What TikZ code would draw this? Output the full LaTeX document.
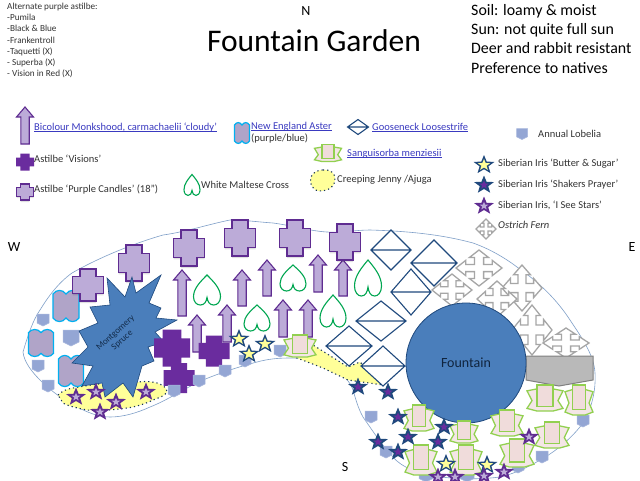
\documentclass[tikz,border=0pt]{standalone}
\usepackage{fontspec}
\setmainfont{Carlito}
\usepackage{tikz}
\usetikzlibrary{calc}
\definecolor{navyline}{HTML}{1F497D}
\definecolor{fountainblue}{HTML}{4A7EBB}
\definecolor{purpledark}{HTML}{6A2C9E}
\definecolor{purpleline}{HTML}{5F2C91}
\definecolor{purplelight}{HTML}{BCABD8}
\definecolor{asterfill}{HTML}{B0A4C8}
\definecolor{astercyan}{HTML}{00B0F0}
\definecolor{lobeliafill}{HTML}{94A6D4}
\definecolor{maltesegreen}{HTML}{00A651}
\definecolor{ribbongreen}{HTML}{92D050}
\definecolor{ribbonpink}{HTML}{F0DCDB}
\definecolor{jennyyellow}{HTML}{FFFF99}
\definecolor{linkblue}{HTML}{3A3AC0}
\definecolor{fernline}{HTML}{A6A6A6}
\definecolor{bedline}{HTML}{7F9FC8}
\definecolor{textgray}{HTML}{333333}
\tikzset{
  legendtext/.style={anchor=west,inner sep=0pt,text=textgray,font=\fontsize{10.5}{12}\selectfont},
  linktext/.style={legendtext,text=linkblue},
  compass/.style={inner sep=0pt,text=black,font=\fontsize{14}{16}\selectfont},
  lightcrossline/.style={draw=purpleline,fill=purplelight,line width=1.2pt},
  crossshadow/.style={fill=black,opacity=.12},
  darkcrossline/.style={fill=purpledark},
  asterline/.style={draw=astercyan,fill=asterfill,line width=1.2pt},
  lobelialine/.style={fill=lobeliafill,draw=lobeliafill!80!white,line width=.5pt},
  monkshoodline/.style={draw=purpleline,fill=purplelight,line width=1.1pt},
  malteseline/.style={draw=maltesegreen,fill=white,line width=1.1pt},
  looseline/.style={draw=navyline,fill=white,line width=1.1pt},
  fernoutline/.style={draw=fernline,fill=white,line width=1.3pt},
  ribbonline/.style={draw=ribbongreen,fill=ribbonpink!70!white,line width=1.3pt},
  ribboncore/.style={draw=ribbongreen,fill=ribbonpink,line width=1.3pt},
  jennyline/.style={fill=jennyyellow},
  jennydots/.style={draw=navyline!70!black,line width=1.1pt,dash pattern=on 1.2pt off 3pt}
}
\newcommand{\linklabel}[1]{\underline{\smash{#1}}}
\newcommand{\crosspath}{(-.52,-1)--(.52,-1)--(.52,-.52)--(1,-.52)--(1,.52)--(.52,.52)--(.52,1)--(-.52,1)--(-.52,.52)--(-1,.52)--(-1,-.52)--(-.52,-.52)--cycle}
\newcommand{\starpath}{(0,-1)--(.247,-.34)--(.951,-.309)--(.40,.13)--(.588,.809)--(0,.42)--(-.588,.809)--(-.40,.13)--(-.951,-.309)--(-.247,-.34)--cycle}
\newcommand{\lightcross}[4]{\fill[crossshadow,shift={(#1,#2+2)},xscale=#3,yscale=#4]\crosspath;
  \draw[lightcrossline,shift={(#1,#2)},xscale=#3,yscale=#4]\crosspath;}
\newcommand{\darkcross}[4]{\fill[darkcrossline,shift={(#1,#2)},xscale=#3,yscale=#4]\crosspath;}
\newcommand{\aster}[4]{\draw[asterline,shift={(#1,#2)},xscale=#3,yscale=#4](-1,-.8)..controls(-.75,-1.12)and(-.25,-1.12)..(0,-.8)..controls(.25,-1.12)and(.75,-1.12)..(1,-.8)--(1,.8)..controls(.75,1.12)and(.25,1.12)..(0,.8)..controls(-.25,1.12)and(-.75,1.12)..(-1,.8)--cycle;}
\newcommand{\lobelia}[3]{\draw[lobelialine,shift={(#1,#2)},scale=#3](-1,-1)--(1,-1)--(1,.5)--(0,1)--(-1,.5)--cycle;}
\newcommand{\monkshood}[3]{\draw[monkshoodline,shift={(#1,#2)}](-4.2,#3)--(-4.2,10)--(-8.5,10)--(0,0)--(8.5,10)--(4.2,10)--(4.2,#3)--cycle;}
\newcommand{\maltese}[4]{\draw[malteseline,shift={(#1,#2)},xscale=#3,yscale=#4](0,-1)..controls(.5,-.55)and(1,-.1)..(1,.45)..controls(1,.8)and(.75,1)..(.5,1)..controls(.2,1)and(.05,.8)..(0,.5)..controls(-.05,.8)and(-.2,1)..(-.5,1)..controls(-.75,1)and(-1,.8)..(-1,.45)..controls(-1,-.1)and(-.5,-.55)..(0,-1)--cycle;}
\newcommand{\loosestrife}[4]{\draw[looseline,shift={(#1,#2)},xscale=#3,yscale=#4](-1,0)--(0,-1)--(1,0)--(0,1)--cycle(-1,0)--(1,0);}
\newcommand{\fern}[4]{\draw[fernoutline,shift={(#1,#2)},xscale=#3,yscale=#4](0,-1)--(.42,-.58)--(.2,-.58)--(.2,-.2)--(.58,-.2)--(.58,-.42)--(1,0)--(.58,.42)--(.58,.2)--(.2,.2)--(.2,.58)--(.42,.58)--(0,1)--(-.42,.58)--(-.2,.58)--(-.2,.2)--(-.58,.2)--(-.58,.42)--(-1,0)--(-.58,-.42)--(-.58,-.2)--(-.2,-.2)--(-.2,-.58)--(-.42,-.58)--cycle;}
\newcommand{\ribbon}[4]{\draw[ribbonline,shift={(#1,#2)},xscale=#3,yscale=#4](-.45,-.7)--(-1,-.55)--(-.72,.2)--(-1,.8)--(-.45,1)--(.45,1)--(1,.8)--(.72,.2)--(1,-.55)--(.45,-.7)--cycle;
  \draw[ribboncore,shift={(#1,#2)},xscale=#3,yscale=#4](-.45,-1)rectangle(.45,.65);}
\newcommand{\butteriris}[2]{\fill[fill=navyline,shift={(#1,#2)},xscale=11,yscale=10]\starpath;
  \fill[fill=jennyyellow,shift={(#1,#2)},xscale=6.5,yscale=6]\starpath;}
\newcommand{\shakersiris}[2]{\fill[fill=navyline,shift={(#1,#2)},xscale=10.5,yscale=9.5]\starpath;
  \fill[fill=purpledark,shift={(#1,#2)},xscale=4.8,yscale=4.5]\starpath;}
\newcommand{\seestars}[2]{\fill[fill=purpleline,shift={(#1,#2)},xscale=10.5,yscale=9.5]\starpath;
  \fill[fill=purplelight,shift={(#1,#2)},xscale=4.5,yscale=4.2]\starpath;}
\begin{document}
\begin{tikzpicture}[x=1pt,y=-1pt]
    \useasboundingbox[fill=white](0,0)rectangle(640,480);
    \node[anchor=north west,inner sep=0pt,align=left,text=textgray,font=\fontsize{9.2}{11.2}\selectfont](alts)at(7,3){Alternate purple astilbe:\\-Pumila\\-Black \& Blue\\-Frankentroll\\-Taquetti (X)\\- Superba (X)\\- Vision in Red (X)};
    \node[compass](north)at(306,11){N};
    \node[inner sep=0pt,font=\fontsize{31.5}{36}\selectfont](title)at(314,41){Fountain Garden};
    \node[anchor=north west,inner sep=0pt,align=left,font=\fontsize{15.9}{19.3}\selectfont](notes)at(471,4){Soil: loamy \& moist\\Sun: not quite full sun\\Deer and rabbit resistant\\Preference to natives};
    \node[compass](west)at(14,247){W};
    \node[compass](east)at(632,247){E};
    \node[compass](south)at(345,467){S};

    \monkshood{25}{107}{37}
    \node[linktext](monklabel)at(34,131){\linklabel{Bicolour Monkshood, carmachaelii ‘cloudy’}};
    \darkcross{25}{162}{9}{8.5}
    \node[legendtext](visionlabel)at(34,159){Astilbe ‘Visions’};
    \lightcross{25}{192}{8.5}{8}
    \node[legendtext](candlelabel)at(34,190){Astilbe ‘Purple Candles’ (18”)};
    \maltese{192}{185}{8}{10.5}
    \node[legendtext](malteselabel)at(201,185){White Maltese Cross};
    \aster{242}{133}{7.5}{10}
    \node[linktext](asterlabel)at(251,130){\linklabel{New England Aster}};
    \node[legendtext](asterhue)at(251,139){(purple/blue)};
    \loosestrife{358}{127}{10.5}{7.5}
    \node[linktext](looselabel)at(372,131){\linklabel{Gooseneck Loosestrife}};
    \ribbon{328}{153}{13.5}{8.5}
    \node[linktext](sanglabel)at(347,157){\linklabel{Sanguisorba menziesii}};
    \fill[jennyyellow](323,170)..controls(331,169)and(336,174)..(335,180)..controls(335,187)and(328,191)..(319,191)..controls(312,190)and(309,183)..(311,177)..controls(313,172)and(318,170)..(323,170)--cycle;
    \draw[jennydots](323,170)..controls(331,169)and(336,174)..(335,180)..controls(335,187)and(328,191)..(319,191)..controls(312,190)and(309,183)..(311,177)..controls(313,172)and(318,170)..(323,170)--cycle;
    \node[legendtext](jennylabel)at(337,180){Creeping Jenny /Ajuga};
    \lobelia{522}{134}{5.5}
    \node[legendtext](lobelialabel)at(538,134){Annual Lobelia};
    \butteriris{484}{165}
    \node[legendtext](butterlabel)at(498,164){Siberian Iris ‘Butter \& Sugar’};
    \shakersiris{484}{185}
    \node[legendtext](shakerlabel)at(498,185){Siberian Iris ‘Shakers Prayer’};
    \seestars{484}{206}
    \node[legendtext](starslabel)at(498,205){Siberian Iris, ‘I See Stars’};
    \fern{486}{229}{10}{10}
    \node[legendtext,font=\fontsize{10.5}{12}\itshape](fernlabel)at(498,225){Ostrich Fern};

    \draw[bedline,line width=.6pt](23,352)..controls(28,335)and(33,320)..(40,310)..controls(48,297)and(58,283)..(72,273)..controls(100,257)and(135,243)..(163,235)..controls(185,232)and(210,224)..(230,220)..controls(245,220)and(258,222)..(273,223)..controls(295,226)and(310,231)..(327,232)..controls(342,233)and(355,230)..(370,230)..controls(405,231)and(440,234)..(473,243)..controls(490,249)and(505,258)..(517,267)..controls(540,283)and(557,300)..(570,320)..controls(582,338)and(594,355)..(595,373)..controls(596,390)and(592,408)..(583,423)..controls(572,438)and(555,452)..(540,460)..controls(527,468)and(513,474)..(500,477)..controls(470,481)and(430,478)..(412,470)..controls(403,466)and(397,462)..(393,457)..controls(382,445)and(372,430)..(363,417)..controls(358,408)and(356,400)..(353,390)..controls(350,382)and(346,378)..(340,373)..controls(325,363)and(308,358)..(290,358)..controls(278,358)and(268,359)..(257,362)..controls(238,367)and(220,373)..(203,380)..controls(185,388)and(168,400)..(150,407)..controls(137,413)and(123,417)..(110,417)..controls(98,417)and(87,412)..(77,407)..controls(63,400)and(50,390)..(40,380)..controls(32,372)and(24,362)..(23,352)--cycle;

    \fill[jennyline](58,395)..controls(62,391)and(67,389)..(73,388)..controls(95,384)and(112,382)..(133,383)..controls(142,381)and(150,381)..(157,383)..controls(163,385)and(167,388)..(167,392)..controls(165,396)and(158,398)..(153,400)..controls(145,404)and(135,407)..(127,408)..controls(113,410)and(100,411)..(87,410)..controls(77,408)and(68,406)..(63,403)--cycle;
    \draw[jennydots](58,395)..controls(62,391)and(67,389)..(73,388)..controls(95,384)and(112,382)..(133,383)..controls(142,381)and(150,381)..(157,383)..controls(163,385)and(167,388)..(167,392)..controls(165,396)and(158,398)..(153,400)..controls(145,404)and(135,407)..(127,408)..controls(113,410)and(100,411)..(87,410)..controls(77,408)and(68,406)..(63,403)--cycle;
    \fill[jennyline](290,353)--(313,345)--(348,367)--(360,362)--(383,385)--(348,380)--(323,368)--(297,358)--cycle;
    \draw[jennydots](290,353)--(313,345)--(348,367)--(360,362)--(383,385)--(348,380)--(323,368)--(297,358)--cycle;

    \aster{66}{306}{13}{15}
    \aster{41}{343}{12.5}{13}
    \aster{71}{371}{12.5}{15}
    \lobelia{43}{320}{6}
    \lobelia{71}{338}{8}
    \lobelia{38}{366}{6}
    \lobelia{48}{386}{6}

    \monkshood{182}{270}{46}
    \monkshood{197}{315}{37}
    \monkshood{242}{270}{36}
    \monkshood{227}{305}{37}
    \monkshood{267}{260}{36}
    \monkshood{283}{300}{37}
    \monkshood{308}{300}{37}
    \monkshood{318}{255}{37}
    \monkshood{343}{260}{36}

    \lightcross{88}{285}{15.5}{16}
    \lightcross{134}{263}{15.5}{18}
    \lightcross{189}{248}{15.5}{18}
    \lightcross{240}{238}{15.5}{18}
    \lightcross{295}{238}{15.5}{18}
    \lightcross{345}{242}{15.5}{18}

    \draw[fill=fountainblue,draw=navyline,line width=.6pt](107,278)--(125,297)--(132,277)--(136,293)--(161,275)--(149,303)--(161,308)--(156,318)--(177,320)--(155,332)--(164,342)--(148,347)--(154,361)--(142,366)--(133,397)--(123,383)--(105,397)--(102,383)--(82,386)--(93,366)--(72,363)--(88,347)--(79,331)--(98,323)--(90,307)--(110,305)--cycle;
    \node[rotate=42,align=center,inner sep=0pt,text=navyline!60!black,font=\fontsize{9}{10}\selectfont](spruce)at(119,337){Montgomery\\Spruce};

    \darkcross{172}{348}{18}{18.5}
    \darkcross{179}{378}{15.5}{15}
    \darkcross{214}{351}{15.5}{15.5}
    \lobelia{174}{391}{6}
    \lobelia{199}{381}{6}
    \lobelia{225}{371}{6}
    \lobelia{245}{361}{6}
    \lobelia{280}{351}{6}
    \lobelia{371}{417}{6}
    \lobelia{386}{452}{6}
    \lobelia{583}{421}{6}
    \lobelia{542}{457}{6}
    \lobelia{518}{467}{6}
    \lobelia{426}{475}{7}
    \lobelia{467}{475}{7}

    \maltese{207}{290}{13.5}{15}
    \maltese{257}{318}{13}{13}
    \maltese{293}{278}{13}{13}
    \maltese{333}{311}{13}{16}
    \maltese{368}{278}{13.5}{18}

    \fern{479}{268}{23}{18}
    \fern{452}{290}{20}{16}
    \fern{522}{288}{20}{23}
    \fern{497}{299}{20}{18}
    \fern{532}{330}{20}{25}
    \fern{566}{343}{23}{15}

    \loosestrife{391}{250}{20}{20}
    \loosestrife{434}{263}{23}{23}
    \loosestrife{411}{292}{20}{23}
    \loosestrife{381}{321}{25}{20}
    \loosestrife{349}{346}{23}{20}
    \loosestrife{383}{366}{22}{20}

    \draw[fill=lightgray!90!gray,draw=gray,line width=1pt](526,356)--(593,356)--(593,380)--(559,386)--(526,380)--cycle;
    \node[circle,draw=navyline,fill=fountainblue,line width=.8pt,minimum size=120pt,inner sep=0pt,text=navyline!50!black,font=\fontsize{14}{16}\selectfont](fountain)at(466,363){Fountain};

    \ribbon{300}{346}{16}{11}
    \ribbon{419}{418}{15}{13}
    \ribbon{464}{432}{14}{11}
    \ribbon{507}{423}{16}{13}
    \ribbon{552}{435}{17}{13}
    \ribbon{545}{398}{18}{13}
    \ribbon{579}{400}{14}{15}
    \ribbon{421}{460}{16}{15}
    \ribbon{466}{460}{16}{15}
    \ribbon{517}{453}{17}{14}

    \butteriris{239}{339}
    \butteriris{265}{344}
    \butteriris{249}{354}
    \butteriris{446}{464}
    \butteriris{487}{465}

    \shakersiris{358}{387}
    \shakersiris{388}{392}
    \shakersiris{398}{417}
    \shakersiris{444}{427}
    \shakersiris{408}{437}
    \shakersiris{378}{442}
    \shakersiris{438}{442}
    \shakersiris{398}{452}

    \seestars{76}{397}
    \seestars{96}{392}
    \seestars{116}{402}
    \seestars{146}{392}
    \seestars{100}{412}
    \seestars{529}{437}
    \seestars{438}{477}
    \seestars{455}{477}
    \seestars{484}{476}
    \seestars{504}{472}
\end{tikzpicture}
\end{document}
